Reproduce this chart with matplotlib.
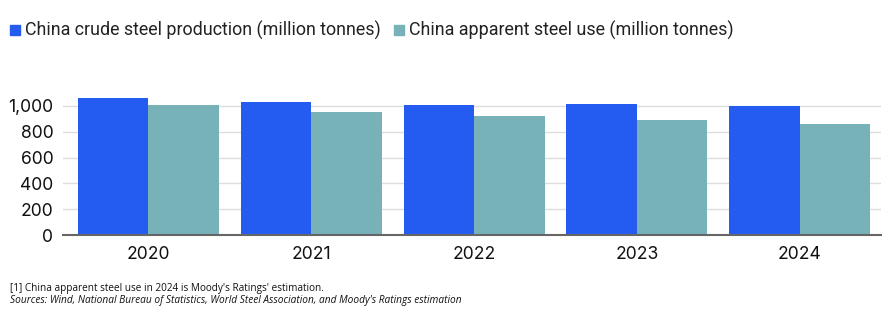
import matplotlib
matplotlib.use("Agg")
import matplotlib.pyplot as plt
import numpy as np

years = ["2020", "2021", "2022", "2023", "2024"]
production = [1063, 1032, 1010, 1015, 1001]
apparent_use = [1007, 955, 923, 893, 863]
yticks = [0, 200, 400, 600, 800, 1000]

blue = "#245BF1"
teal = "#76B2B8"

W, H = 888, 325
fig = plt.figure(figsize=(W / 100, H / 100), dpi=100)
ax = fig.add_axes([63 / W, 1 - 235 / H, 818 / W, 142 / H])

x = np.arange(len(years))
w = 0.433
ax.bar(x - w / 2, production, width=w, color=blue, zorder=3)
ax.bar(x + w / 2, apparent_use, width=w, color=teal, zorder=3)

ax.set_xlim(-0.525, len(years) - 0.5)
ax.set_ylim(0, 1100)
ax.set_yticks(yticks)
ax.set_yticklabels([f"{v:,}" for v in yticks])
ax.set_xticks(x)
ax.set_xticklabels(years)
ax.yaxis.grid(True, color="#DDDDDD", linewidth=1, zorder=0)
for s in ["top", "right", "left"]:
    ax.spines[s].set_visible(False)
ax.spines["bottom"].set_color("#666666")
ax.spines["bottom"].set_linewidth(1.5)
ax.spines["bottom"].set_zorder(4)
ax.tick_params(axis="both", length=0, labelsize=12.6, colors="#111111")
ax.tick_params(axis="x", pad=8)
ax.tick_params(axis="y", pad=7)
for lbl in ax.get_xticklabels() + ax.get_yticklabels():
    lbl.set_family("Inter")

# legend drawn as text with square markers
def legend_item(x0, label, color):
    fig.patches.append(plt.Rectangle((x0 / W, 1 - 34.5 / H), 10 / W, 10 / H,
                                     transform=fig.transFigure, color=color))
    fig.text((x0 + 15) / W, 1 - 30 / H, label, fontsize=12.9, family="Roboto",
             color="#222222", va="center", ha="left")

legend_item(10, "China crude steel production (million tonnes)", blue)
legend_item(394, "China apparent steel use (million tonnes)", teal)

fig.text(10 / W, 1 - 288 / H, "[1] China apparent steel use in 2024 is Moody's Ratings' estimation.",
         fontsize=7.2, family="Open Sans", color="#111111", va="center")
fig.text(10 / W, 1 - 301 / H,
         "Sources: Wind, National Bureau of Statistics, World Steel Association, and Moody's Ratings estimation",
         fontsize=7.3, family="Open Sans", style="italic", color="#111111", va="center")

fig.savefig("out.png", dpi=100)
